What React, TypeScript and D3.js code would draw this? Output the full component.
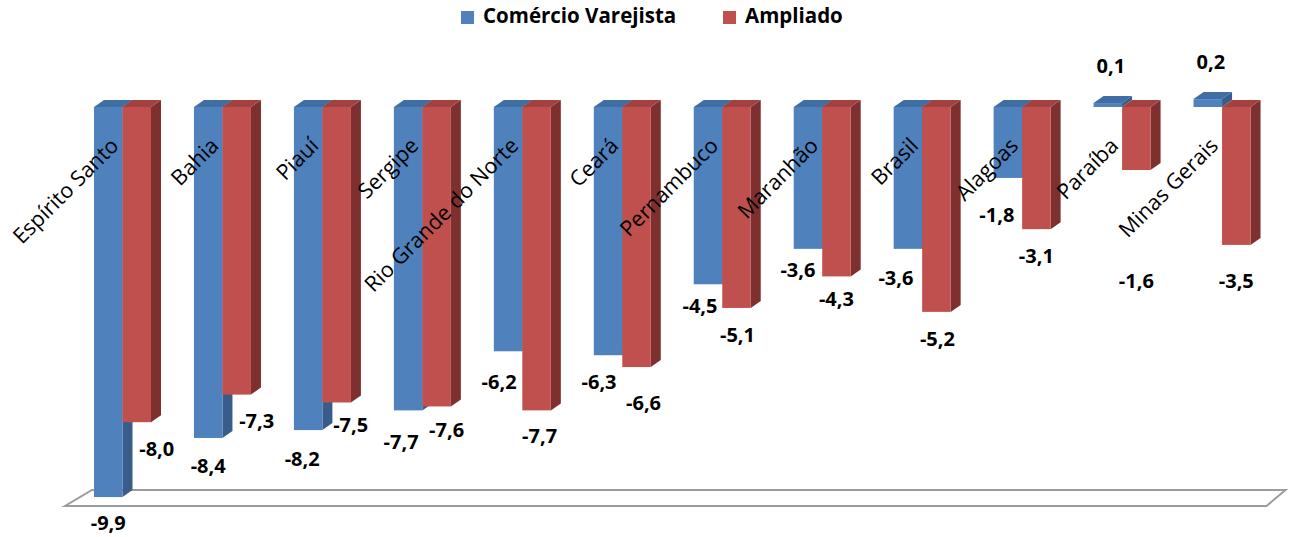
import React from "react";
import * as d3 from "d3";

const categories = [
  "Espírito Santo",
  "Bahia",
  "Piauí",
  "Sergipe",
  "Rio Grande do Norte",
  "Ceará",
  "Pernambuco",
  "Maranhão",
  "Brasil",
  "Alagoas",
  "Paraíba",
  "Minas Gerais",
];
const seriesNames = ["Comércio Varejista", "Ampliado"];
const varejista = [-9.9, -8.4, -8.2, -7.7, -6.2, -6.3, -4.5, -3.6, -3.6, -1.8, 0.1, 0.2];
const ampliado = [-8.0, -7.3, -7.5, -7.6, -7.7, -6.6, -5.1, -4.3, -5.2, -3.1, -1.6, -3.5];

// small label nudges (dx, dy) relative to the default spot
const varejistaNudge = [[0, -1], [0, 1], [-6, 2], [-7, 4], [-9, 3], [-9, -1], [-8, -6], [-10, -6], [-12, 2], [-11, 10], [3, 0], [3, 0]];
const ampliadoNudge = [[20, -1], [20, -1], [14, -5], [10, -4], [3, -2], [7, 9], [1, 0], [0, -5], [1, 0], [0, 0], [0, 84], [0, 9]];

const colors = {
  blue: { front: "#4f81bd", side: "#385d8a", top: "#3f6ea5" },
  red: { front: "#c0504d", side: "#7d302e", top: "#a2413f" },
};

const W = 1289;
const H = 537;
const DX = 10;
const DY = -7;
const font = "'Open Sans', Lato, sans-serif";

const fmt = (v: number) => d3.format(".1f")(v).replace("−", "-").replace(".", ",");

export default function App() {
  const y = d3.scaleLinear().domain([0, -10]).range([107, 501]);
  const x0 = d3.scaleBand().domain(categories).range([94, 1293.5]);
  const x1 = d3.scaleBand().domain(seriesNames).range([0, 57]);
  const bw = x1.bandwidth();

  const [r0, r1] = x0.range();
  const yf = y(-10);
  const floor = [
    [r0 - 29, yf + 5],
    [r1 - 27, yf + 5],
    [r1 - 8, yf - 11],
    [r0 - 2, yf - 11],
  ];

  const bar = (key: string, xs: number, v: number, c: { front: string; side: string; top: string }) => {
    const yTop = Math.min(y(0), y(v));
    const yBot = Math.max(y(0), y(v));
    const h = Math.max(yBot - yTop, 0.5);
    const xe = xs + bw;
    const side = `M${xe},${yTop} L${xe + DX},${yTop + DY} L${xe + DX},${yTop + h + DY} L${xe},${yTop + h} Z`;
    const top = `M${xs},${yTop} L${xs + DX},${yTop + DY} L${xe + DX},${yTop + DY} L${xe},${yTop} Z`;
    return (
      <g key={key}>
        <path d={side} fill={c.side} />
        <path d={top} fill={c.top} />
        <rect x={xs} y={yTop} width={bw} height={h} fill={c.front} />
      </g>
    );
  };

  const label = (key: string, xc: number, v: number, nudge: number[]) => {
    const yy = v < 0 ? y(v) + 29 : y(v) + DY - 28;
    return (
      <text
        key={key}
        x={xc + nudge[0]}
        y={yy + nudge[1]}
        textAnchor="middle"
        dominantBaseline="middle"
        fontFamily={font}
        fontWeight="bold"
        fontSize={20}
        fill="#000"
      >
        {fmt(v)}
      </text>
    );
  };

  return (
    <svg width={W} height={H} style={{ position: "absolute", left: 0, top: 0, background: "#fff" }}>
      <polygon points={floor.map((p) => p.join(",")).join(" ")} fill="#fff" stroke="#9c9c9c" strokeWidth={2} />

      {categories.map((cat, i) => {
        const xs = x0(cat)!;
        return (
          <g key={cat}>
            {bar("b" + i, xs + x1(seriesNames[0])!, varejista[i], colors.blue)}
            {bar("r" + i, xs + x1(seriesNames[1])!, ampliado[i], colors.red)}
          </g>
        );
      })}

      {categories.map((cat, i) => (
        <text
          key={"c" + i}
          transform={`translate(${x0(cat)! + 26},${147}) rotate(-45)`}
          textAnchor="end"
          fontFamily={font}
          fontSize={21.5}
          fill="#000"
        >
          {cat}
        </text>
      ))}

      {categories.map((cat, i) => {
        const xs = x0(cat)!;
        return (
          <g key={"l" + i}>
            {label("lb" + i, xs + x1(seriesNames[0])! + bw / 2, varejista[i], varejistaNudge[i])}
            {label("lr" + i, xs + x1(seriesNames[1])! + bw / 2, ampliado[i], ampliadoNudge[i])}
          </g>
        );
      })}

      <g fontFamily={font} fontWeight="bold" fontSize={20.5}>
        <rect x={461} y={11} width={13} height={13} fill={colors.blue.front} />
        <text x={483} y={18} dominantBaseline="middle">{seriesNames[0]}</text>
        <rect x={723} y={11} width={13} height={13} fill={colors.red.front} />
        <text x={745} y={18} dominantBaseline="middle">{seriesNames[1]}</text>
      </g>
    </svg>
  );
}
